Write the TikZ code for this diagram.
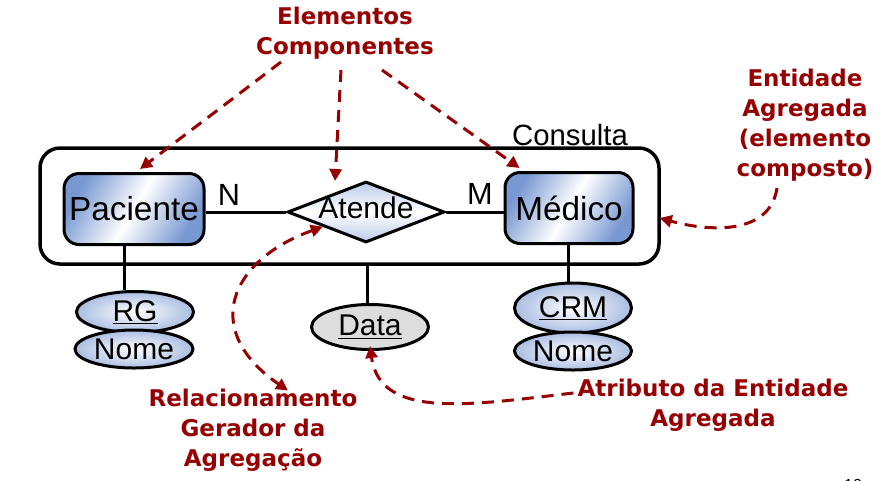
\documentclass[tikz,border=0pt]{standalone}
\usepackage{fontspec}
\setmainfont{Liberation Sans}
\newfontfamily\redfont{DejaVu Sans}
\usetikzlibrary{arrows.meta,shapes.geometric,calc}
\newdimen\pxu \pxu=0.75pt
\definecolor{anno}{RGB}{150,0,0}
\definecolor{entblue}{RGB}{120,152,210}
\definecolor{attblue}{RGB}{170,190,226}
\definecolor{relblue}{RGB}{185,202,232}
\definecolor{datagrey}{RGB}{221,221,221}
\begin{document}
\begin{tikzpicture}[x=0.75pt,y=-0.75pt,
  entity/.style={draw, line width=3\pxu, rounded corners=15\pxu, inner sep=0pt,
    minimum width=140\pxu, minimum height=71\pxu,
    left color=entblue, right color=entblue, middle color=white, shading angle=60,
    font=\fontsize{25}{29}\selectfont},
  relship/.style={draw, diamond, line width=3\pxu, inner sep=0pt, aspect=2.6,
    minimum width=157\pxu, minimum height=61\pxu, text height=9pt, text depth=0pt,
    top color=relblue, bottom color=relblue, middle color=white,
    font=\fontsize{22.5}{26}\selectfont},
  attr/.style={draw, ellipse, line width=3\pxu, inner sep=0pt,
    minimum width=117\pxu, inner color=white, outer color=attblue,
    font=\fontsize{22.5}{26}\selectfont},
  aggbox/.style={draw, line width=3.5\pxu, rounded corners=20\pxu,
    minimum width=619\pxu, minimum height=116\pxu},
  conn/.style={line width=3\pxu},
  card/.style={font=\fontsize{23}{27}\selectfont, inner sep=0pt},
  annotext/.style={text=anno, align=center, inner sep=0pt,
    font=\redfont\bfseries\fontsize{17.25}{22.5}\selectfont},
  annoarr/.style={draw=anno, line width=3\pxu, dash pattern=on 9pt off 6pt,
    -{Triangle[length=9pt,width=9pt]}},
  annoarrtwo/.style={annoarr, {Triangle[length=9pt,width=9pt]}-{Triangle[length=9pt,width=9pt]}}
]
\useasboundingbox (0,0) rectangle (886,480);

% aggregation box
\node[aggbox] (consulta) at (349.5,206) {};
\node[font=\fontsize{22}{26}\selectfont, anchor=base, inner sep=0pt] (consultalbl) at (570,145) {Consulta};

\coordinate (pacline) at (124,0);
\coordinate (dataline) at (367,0);
\coordinate (crmline) at (568,0);

% nodes
\node[entity] (pac) at (134,209) {Paciente};
\node[entity, minimum width=128\pxu] (medico) at (569,208) {Médico};
\node[relship] (atende) at (366,212) {Atende};

\draw[conn] (atende.west) -- (atende.west -| pac.east);
\draw[conn] (atende.east) -- (atende.east -| medico.west);
\node[card] (n) at (229,195) {N};
\node[card] (m) at (480,194) {M};

\node[attr, minimum height=41\pxu] (rg) at (135,312) {\underline{RG}};
\node[attr, minimum height=38\pxu, minimum width=118\pxu] (nome1) at (134,349) {Nome};
\node[attr, minimum height=45\pxu, fill=datagrey, inner color=datagrey, outer color=datagrey] (data) at (370,327) {\underline{Data}};
\node[attr, minimum height=50\pxu] (crm) at (573,308) {\underline{CRM}};
\node[attr, minimum height=38\pxu] (nome2) at (573,351) {Nome};

\draw[conn] (pac.south -| pacline) -- (rg.north -| pacline);
\draw[conn] (consulta.south -| dataline) -- (data.north -| dataline);
\draw[conn] (medico.south -| crmline) -- (crm.north -| crmline);

% annotations
\node[annotext] (elem) at (345,33) {Elementos\\Componentes};
\node[annotext] (entag) at (805,125) {Entidade\\Agregada\\(elemento\\composto)};
\node[annotext] (relger) at (253,430) {Relacionamento\\Gerador da\\Agregação};
\node[annotext] (atrib) at (713,405) {Atributo da Entidade\\Agregada};
\node[font=\fontsize{12}{14}\selectfont, inner sep=0pt] (pagenum) at (853,485) {10};

\coordinate (e1) at (281,62);
\coordinate (e2) at (341,70);
\coordinate (e3) at (382,70);
\draw[annoarr] (e1) -- ($(pac.north)+(6,-3)$);
\draw[annoarr] (e2) -- ($(atende.north)+(-31,1)$);
\draw[annoarr] (e3) -- ($(medico.north west)+(16,-3)$);

\coordinate (ea) at (777,188);
\draw[annoarr] (ea) .. controls (770,235) and (710,232) .. ($(consulta.east)+(-1,12)$);

\draw[annoarrtwo] ($(atende.west)!0.46!(atende.south)$) .. controls (230,260) and (200,330) .. ($(relger.north)+(35,2)$);

\draw[annoarr] ($(atrib.west)+(-4,-12)$) .. controls (470,405) and (380,420) .. ($(data.south)+(0,-5)$);
\end{tikzpicture}
\end{document}
